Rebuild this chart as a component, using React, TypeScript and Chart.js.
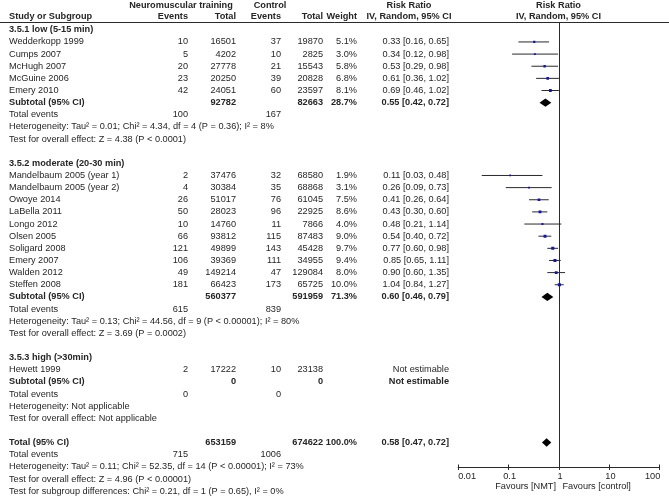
import React, { useEffect, useRef } from 'react';
import { Chart, registerables } from 'chart.js';

Chart.register(...registerables);

// ---------------- data ----------------
const groupTitles = ['3.5.1 low (5-15 min)', '3.5.2 moderate (20-30 min)', '3.5.3 high (>30min)'];

const g1Studies = ['Wedderkopp 1999', 'Cumps 2007', 'McHugh 2007', 'McGuine 2006', 'Emery 2010'];
const g1NmtEvents = [10, 5, 20, 23, 42];
const g1NmtTotal = [16501, 4202, 27778, 20250, 24051];
const g1CtlEvents = [37, 10, 21, 39, 60];
const g1CtlTotal = [19870, 2825, 15543, 20828, 23597];
const g1Weight = [5.1, 3.0, 5.8, 6.8, 8.1];
const g1RR = [0.33, 0.34, 0.53, 0.61, 0.69];
const g1Lower = [0.16, 0.12, 0.29, 0.36, 0.46];
const g1Upper = [0.65, 0.98, 0.98, 1.02, 1.02];

const g2Studies = ['Mandelbaum 2005 (year 1)', 'Mandelbaum 2005 (year 2)', 'Owoye 2014', 'LaBella 2011', 'Longo 2012', 'Olsen 2005', 'Soligard 2008', 'Emery 2007', 'Walden 2012', 'Steffen 2008'];
const g2NmtEvents = [2, 4, 26, 50, 10, 66, 121, 106, 49, 181];
const g2NmtTotal = [37476, 30384, 51017, 28023, 14760, 93812, 49899, 39369, 149214, 66423];
const g2CtlEvents = [32, 35, 76, 96, 11, 115, 143, 111, 47, 173];
const g2CtlTotal = [68580, 68868, 61045, 22925, 7866, 87483, 45428, 34955, 129084, 65725];
const g2Weight = [1.9, 3.1, 7.5, 8.6, 4.0, 9.0, 9.7, 9.4, 8.0, 10.0];
const g2RR = [0.11, 0.26, 0.41, 0.43, 0.48, 0.54, 0.77, 0.85, 0.90, 1.04];
const g2Lower = [0.03, 0.09, 0.26, 0.30, 0.21, 0.40, 0.60, 0.65, 0.60, 0.84];
const g2Upper = [0.48, 0.73, 0.64, 0.60, 1.14, 0.72, 0.98, 1.11, 1.35, 1.27];

const g3Studies = ['Hewett 1999'];
const g3NmtEvents = [2];
const g3NmtTotal = [17222];
const g3CtlEvents = [10];
const g3CtlTotal = [23138];
const g3Weight: (number | null)[] = [null];
const g3RR: (number | null)[] = [null];
const g3Lower: (number | null)[] = [null];
const g3Upper: (number | null)[] = [null];

// subtotals per group
const subNmtTotal = [92782, 560377, 0];
const subCtlTotal = [82663, 591959, 0];
const subWeight: (number | null)[] = [28.7, 71.3, null];
const subRR: (number | null)[] = [0.55, 0.60, null];
const subLower: (number | null)[] = [0.42, 0.46, null];
const subUpper: (number | null)[] = [0.72, 0.79, null];
const subNmtEvents = [100, 615, 0];
const subCtlEvents = [167, 839, 0];
const subHeterogeneity = [
  'Heterogeneity: Tau² = 0.01; Chi² = 4.34, df = 4 (P = 0.36); I² = 8%',
  'Heterogeneity: Tau² = 0.13; Chi² = 44.56, df = 9 (P < 0.00001); I² = 80%',
  'Heterogeneity: Not applicable',
];
const subOverall = [
  'Test for overall effect: Z = 4.38 (P < 0.0001)',
  'Test for overall effect: Z = 3.69 (P = 0.0002)',
  'Test for overall effect: Not applicable',
];

// overall total
const totalNmtTotal = 653159;
const totalCtlTotal = 674622;
const totalWeight = 100.0;
const totalRR = 0.58;
const totalLower = 0.47;
const totalUpper = 0.72;
const totalNmtEvents = 715;
const totalCtlEvents = 1006;
const totalHeterogeneity = 'Heterogeneity: Tau² = 0.11; Chi² = 52.35, df = 14 (P < 0.00001); I² = 73%';
const totalOverall = 'Test for overall effect: Z = 4.96 (P < 0.00001)';
const subgroupDiff = 'Test for subgroup differences: Chi² = 0.21, df = 1 (P = 0.65), I² = 0%';

const axisTicks = [0.01, 0.1, 1, 10, 100];
const axisTickLabels = ['0.01', '0.1', '1', '10', '100'];
const favoursLeft = 'Favours [NMT]';
const favoursRight = 'Favours [control]';

// ---------------- layout ----------------
const W = 669;
const H = 499;
const FS = 9.2;
const FONT = '"Liberation Sans", Arial, "DejaVu Sans", sans-serif';
const TEXT = '#262626';
const LINE = '#2a2a2a';
const POINT = '#1414a8';

const PLOT_LEFT = 457.7;
const PLOT_RIGHT = 659.3;
const PLOT_TOP = 22;
const AXIS_Y = 466.5;
const ROW0_Y = 29.8;
const PITCH = 12.14;

const COL_NAME = 9;
const COL_NMT_EV = 188;
const COL_NMT_TOT = 236;
const COL_CTL_EV = 281;
const COL_CTL_TOT = 323;
const COL_WEIGHT = 357;
const COL_RR = 449;
const RR_HEAD_C = 409;

type Study = { name: string; ne: number; nt: number; ce: number; ct: number; w: number | null; rr: number | null; lo: number | null; hi: number | null; u: number };
type RowText = { u: number; cells: { s: string; x: number; align: CanvasTextAlign; bold?: boolean }[] };
type Diamond = { u: number; rr: number; lo: number; hi: number };

const groups = [
  { names: g1Studies, ne: g1NmtEvents, nt: g1NmtTotal, ce: g1CtlEvents, ct: g1CtlTotal, w: g1Weight as (number | null)[], rr: g1RR as (number | null)[], lo: g1Lower as (number | null)[], hi: g1Upper as (number | null)[] },
  { names: g2Studies, ne: g2NmtEvents, nt: g2NmtTotal, ce: g2CtlEvents, ct: g2CtlTotal, w: g2Weight as (number | null)[], rr: g2RR as (number | null)[], lo: g2Lower as (number | null)[], hi: g2Upper as (number | null)[] },
  { names: g3Studies, ne: g3NmtEvents, nt: g3NmtTotal, ce: g3CtlEvents, ct: g3CtlTotal, w: g3Weight, rr: g3RR, lo: g3Lower, hi: g3Upper },
];

const fmtRR = (rr: number | null, lo: number | null, hi: number | null) =>
  rr == null || lo == null || hi == null ? 'Not estimable' : `${rr.toFixed(2)} [${lo.toFixed(2)}, ${hi.toFixed(2)}]`;
const fmtW = (w: number | null) => (w == null ? '' : `${w.toFixed(1)}%`);

function buildRows() {
  const studies: Study[] = [];
  const texts: RowText[] = [];
  const diamonds: Diamond[] = [];
  let u = 0;
  groups.forEach((g, gi) => {
    texts.push({ u, cells: [{ s: groupTitles[gi], x: COL_NAME, align: 'left', bold: true }] });
    u += 1;
    g.names.forEach((name, i) => {
      studies.push({ name, ne: g.ne[i], nt: g.nt[i], ce: g.ce[i], ct: g.ct[i], w: g.w[i], rr: g.rr[i], lo: g.lo[i], hi: g.hi[i], u });
      texts.push({
        u,
        cells: [
          { s: name, x: COL_NAME, align: 'left' },
          { s: String(g.ne[i]), x: COL_NMT_EV, align: 'right' },
          { s: String(g.nt[i]), x: COL_NMT_TOT, align: 'right' },
          { s: String(g.ce[i]), x: COL_CTL_EV, align: 'right' },
          { s: String(g.ct[i]), x: COL_CTL_TOT, align: 'right' },
          { s: fmtW(g.w[i]), x: COL_WEIGHT, align: 'right' },
          { s: fmtRR(g.rr[i], g.lo[i], g.hi[i]), x: COL_RR, align: 'right' },
        ],
      });
      u += 1;
    });
    texts.push({
      u,
      cells: [
        { s: 'Subtotal (95% CI)', x: COL_NAME, align: 'left', bold: true },
        { s: String(subNmtTotal[gi]), x: COL_NMT_TOT, align: 'right', bold: true },
        { s: String(subCtlTotal[gi]), x: COL_CTL_TOT, align: 'right', bold: true },
        { s: fmtW(subWeight[gi]), x: COL_WEIGHT, align: 'right', bold: true },
        { s: fmtRR(subRR[gi], subLower[gi], subUpper[gi]), x: COL_RR, align: 'right', bold: true },
      ],
    });
    const r = subRR[gi], lo = subLower[gi], hi = subUpper[gi];
    if (r != null && lo != null && hi != null) diamonds.push({ u, rr: r, lo, hi });
    u += 1;
    texts.push({
      u,
      cells: [
        { s: 'Total events', x: COL_NAME, align: 'left' },
        { s: String(subNmtEvents[gi]), x: COL_NMT_EV, align: 'right' },
        { s: String(subCtlEvents[gi]), x: COL_CTL_EV, align: 'right' },
      ],
    });
    u += 1;
    texts.push({ u, cells: [{ s: subHeterogeneity[gi], x: COL_NAME, align: 'left' }] });
    u += 1;
    texts.push({ u, cells: [{ s: subOverall[gi], x: COL_NAME, align: 'left' }] });
    u += 2;
  });
  texts.push({
    u,
    cells: [
      { s: 'Total (95% CI)', x: COL_NAME, align: 'left', bold: true },
      { s: String(totalNmtTotal), x: COL_NMT_TOT, align: 'right', bold: true },
      { s: String(totalCtlTotal), x: COL_CTL_TOT, align: 'right', bold: true },
      { s: fmtW(totalWeight), x: COL_WEIGHT, align: 'right', bold: true },
      { s: fmtRR(totalRR, totalLower, totalUpper), x: COL_RR, align: 'right', bold: true },
    ],
  });
  diamonds.push({ u, rr: totalRR, lo: totalLower, hi: totalUpper });
  u += 1;
  texts.push({
    u,
    cells: [
      { s: 'Total events', x: COL_NAME, align: 'left' },
      { s: String(totalNmtEvents), x: COL_NMT_EV, align: 'right' },
      { s: String(totalCtlEvents), x: COL_CTL_EV, align: 'right' },
    ],
  });
  u += 1;
  texts.push({ u, cells: [{ s: totalHeterogeneity, x: COL_NAME, align: 'left' }] });
  u += 1;
  texts.push({ u, cells: [{ s: totalOverall, x: COL_NAME, align: 'left' }] });
  u += 1;
  texts.push({ u, cells: [{ s: subgroupDiff, x: COL_NAME, align: 'left' }] });
  return { studies, texts, diamonds };
}

function drawText(ctx: CanvasRenderingContext2D, s: string, x: number, y: number, align: CanvasTextAlign, bold?: boolean) {
  ctx.font = `${bold ? 'bold ' : ''}${FS}px ${FONT}`;
  ctx.textAlign = align;
  ctx.textBaseline = 'middle';
  ctx.fillStyle = TEXT;
  ctx.fillText(s, x, y);
}

export default function App() {
  const ref = useRef<HTMLCanvasElement | null>(null);

  useEffect(() => {
    const canvas = ref.current;
    if (!canvas) return;
    const { studies, texts, diamonds } = buildRows();
    const est = studies.filter((s) => s.rr != null);

    const yMin = (PLOT_TOP - ROW0_Y) / PITCH;
    const yMax = (AXIS_Y - ROW0_Y) / PITCH;

    const forest = {
      id: 'forest',
      beforeDatasetsDraw(chart: any) {
        const ctx: CanvasRenderingContext2D = chart.ctx;
        const xs = chart.scales.x;
        const ys = chart.scales.y;
        ctx.save();
        // header
        drawText(ctx, 'Neuromuscular training', 181, 5.5, 'center', true);
        drawText(ctx, 'Control', 270, 5.5, 'center', true);
        drawText(ctx, 'Risk Ratio', RR_HEAD_C, 5.5, 'center', true);
        drawText(ctx, 'Risk Ratio', xs.getPixelForValue(1), 5.5, 'center', true);
        drawText(ctx, 'Study or Subgroup', COL_NAME, 16.5, 'left', true);
        drawText(ctx, 'Events', COL_NMT_EV, 16.5, 'right', true);
        drawText(ctx, 'Total', COL_NMT_TOT, 16.5, 'right', true);
        drawText(ctx, 'Events', COL_CTL_EV, 16.5, 'right', true);
        drawText(ctx, 'Total', COL_CTL_TOT, 16.5, 'right', true);
        drawText(ctx, 'Weight', COL_WEIGHT, 16.5, 'right', true);
        drawText(ctx, 'IV, Random, 95% CI', RR_HEAD_C, 16.5, 'center', true);
        drawText(ctx, 'IV, Random, 95% CI', xs.getPixelForValue(1), 16.5, 'center', true);

        ctx.strokeStyle = LINE;
        ctx.lineWidth = 1;
        ctx.beginPath();
        ctx.moveTo(0, PLOT_TOP + 0.5);
        ctx.lineTo(W, PLOT_TOP + 0.5);
        ctx.stroke();

        // table text
        texts.forEach((row) => {
          const py = ys.getPixelForValue(row.u);
          row.cells.forEach((c) => drawText(ctx, c.s, c.x, py, c.align, c.bold));
        });

        // line of no effect
        const x1 = Math.round(xs.getPixelForValue(1)) + 0.5;
        ctx.strokeStyle = LINE;
        ctx.beginPath();
        ctx.moveTo(x1, PLOT_TOP);
        ctx.lineTo(x1, AXIS_Y);
        ctx.stroke();

        // x axis
        const ay = Math.round(AXIS_Y) + 0.5;
        ctx.beginPath();
        ctx.moveTo(xs.getPixelForValue(axisTicks[0]), ay);
        ctx.lineTo(xs.getPixelForValue(axisTicks[axisTicks.length - 1]), ay);
        axisTicks.forEach((t) => {
          const tx = Math.round(xs.getPixelForValue(t)) + 0.5;
          ctx.moveTo(tx, ay - 3);
          ctx.lineTo(tx, ay + 2.5);
        });
        ctx.stroke();
        axisTicks.forEach((t, i) => {
          const tx = xs.getPixelForValue(t);
          const align: CanvasTextAlign = i === 0 ? 'left' : i === axisTicks.length - 1 ? 'right' : 'center';
          drawText(ctx, axisTickLabels[i], i === 0 ? tx + 0.5 : i === axisTicks.length - 1 ? tx + 1 : tx + 1.5, AXIS_Y + 10, align);
        });
        drawText(ctx, favoursLeft, xs.getPixelForValue(1) - 2.5, AXIS_Y + 20, 'right');
        drawText(ctx, favoursRight, xs.getPixelForValue(1) + 4, AXIS_Y + 20, 'left');

        // CI whiskers
        ctx.strokeStyle = LINE;
        est.forEach((s) => {
          const py = ys.getPixelForValue(s.u);
          ctx.beginPath();
          ctx.moveTo(xs.getPixelForValue(s.lo as number), py);
          ctx.lineTo(xs.getPixelForValue(s.hi as number), py);
          ctx.stroke();
        });
        ctx.restore();
      },
      afterDatasetsDraw(chart: any) {
        const ctx: CanvasRenderingContext2D = chart.ctx;
        const xs = chart.scales.x;
        const ys = chart.scales.y;
        ctx.save();
        ctx.fillStyle = '#000';
        diamonds.forEach((d) => {
          const py = ys.getPixelForValue(d.u);
          const h = 4.2;
          ctx.beginPath();
          ctx.moveTo(xs.getPixelForValue(d.lo), py);
          ctx.lineTo(xs.getPixelForValue(d.rr), py - h);
          ctx.lineTo(xs.getPixelForValue(d.hi), py);
          ctx.lineTo(xs.getPixelForValue(d.rr), py + h);
          ctx.closePath();
          ctx.fill();
        });
        ctx.restore();
      },
    };

    const chart = new Chart(canvas, {
      type: 'scatter',
      data: {
        datasets: [
          {
            data: est.map((s) => ({ x: s.rr as number, y: s.u })),
            pointStyle: 'rect',
            pointRadius: est.map((s) => (1.4 + (s.w as number) * 0.17) / Math.SQRT2),
            pointBackgroundColor: POINT,
            pointBorderWidth: 0,
            showLine: false,
          },
        ],
      },
      options: {
        animation: false,
        responsive: false,
        devicePixelRatio: 1,
        events: [],
        layout: { padding: { left: PLOT_LEFT, right: W - PLOT_RIGHT, top: PLOT_TOP, bottom: H - AXIS_Y } },
        plugins: { legend: { display: false }, tooltip: { enabled: false }, title: { display: false } },
        scales: {
          x: { type: 'logarithmic', min: 0.01, max: 100, display: false },
          y: { type: 'linear', min: yMin, max: yMax, reverse: true, display: false },
        },
      },
      plugins: [forest],
    } as any);

    return () => chart.destroy();
  }, []);

  return (
    <div style={{ position: 'absolute', left: 0, top: 0, width: W, height: H, background: '#fff' }}>
      <canvas ref={ref} width={W} height={H} style={{ display: 'block', width: W, height: H }} />
    </div>
  );
}
